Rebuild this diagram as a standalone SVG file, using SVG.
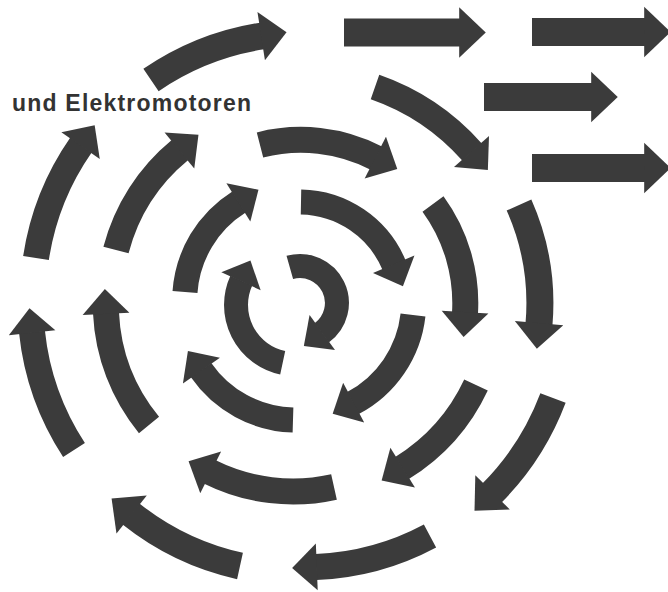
<svg xmlns="http://www.w3.org/2000/svg" width="668" height="592" viewBox="0 0 668 592">
  <defs>
    <marker id="head" markerUnits="strokeWidth" markerWidth="1" markerHeight="1.8" refX="0" refY="0.9" orient="auto" overflow="visible">
      <path d="M-0.03,0 L0.92,0.9 L-0.03,1.8 Z" fill="#3b3b3b"/>
    </marker>
  </defs>
  <style>
    .ar { fill: none; stroke: #3b3b3b; stroke-linecap: butt; marker-end: url(#head); }
    .w24 { stroke-width: 24; }
    .w25 { stroke-width: 25; }
    .w26 { stroke-width: 26; }
    .w27 { stroke-width: 27; }
    .w28 { stroke-width: 28; }
    text { font-family: "Liberation Sans", Arial, sans-serif; font-weight: bold; fill: #333; }
  </style>
  <rect width="668" height="592" fill="#ffffff"/>
  <text x="12" y="110.5" font-size="23" textLength="239" lengthAdjust="spacing">und Elektromotoren</text>
  <g id="arrows">
    <!-- straight arrows -->
    <path class="ar w28" d="M344,32.5 L460,32.5"/>
    <path class="ar w28" d="M532,32 L645,32"/>
    <path class="ar w28" d="M484,97 L592,97"/>
    <path class="ar w28" d="M532,168 L645,168"/>
    <!-- outer ring -->
    <path class="ar w27" d="M151,80 A270,270 0 0 1 262,36"/>
    <path class="ar w26" d="M375,87 A231,231 0 0 1 472,152"/>
    <path class="ar w27" d="M519,205 A242,242 0 0 1 539,324"/>
    <path class="ar w27" d="M553,398 A270,270 0 0 1 492,493"/>
    <path class="ar w26" d="M430,536 A264,264 0 0 1 316,567"/>
    <path class="ar w27" d="M240,566 A267,267 0 0 1 131,514"/>
    <path class="ar w26" d="M74,450 A267,267 0 0 1 32,332"/>
    <path class="ar w26" d="M36,258 A268,268 0 0 1 81,145"/>
    <!-- third ring -->
    <path class="ar w26" d="M116,250 A192,192 0 0 1 180,150"/>
    <path class="ar w26" d="M260,145 A165,165 0 0 1 376,158"/>
    <path class="ar w26" d="M433,204 A168,168 0 0 1 465,313"/>
    <path class="ar w26" d="M476,385 A194,194 0 0 1 402,468"/>
    <path class="ar w26" d="M334,487 A187,187 0 0 1 210,472"/>
    <path class="ar w26" d="M149,425 A191,191 0 0 1 106,313"/>
    <!-- second ring -->
    <path class="ar w25" d="M185,292 A116,116 0 0 1 239,202"/>
    <path class="ar w25" d="M301,202 A103,103 0 0 1 394,265"/>
    <path class="ar w25" d="M413,315 A114,114 0 0 1 353,403"/>
    <path class="ar w25" d="M293,420 A116,116 0 0 1 201,370"/>
    <!-- inner ring -->
    <path class="ar w24" d="M282.7,362.7 A59,59 0 0 1 241.3,280.6"/>
    <path class="ar w24" d="M289.8,267.4 A37,37 0 0 1 321.7,332.9"/>
  </g>
</svg>
